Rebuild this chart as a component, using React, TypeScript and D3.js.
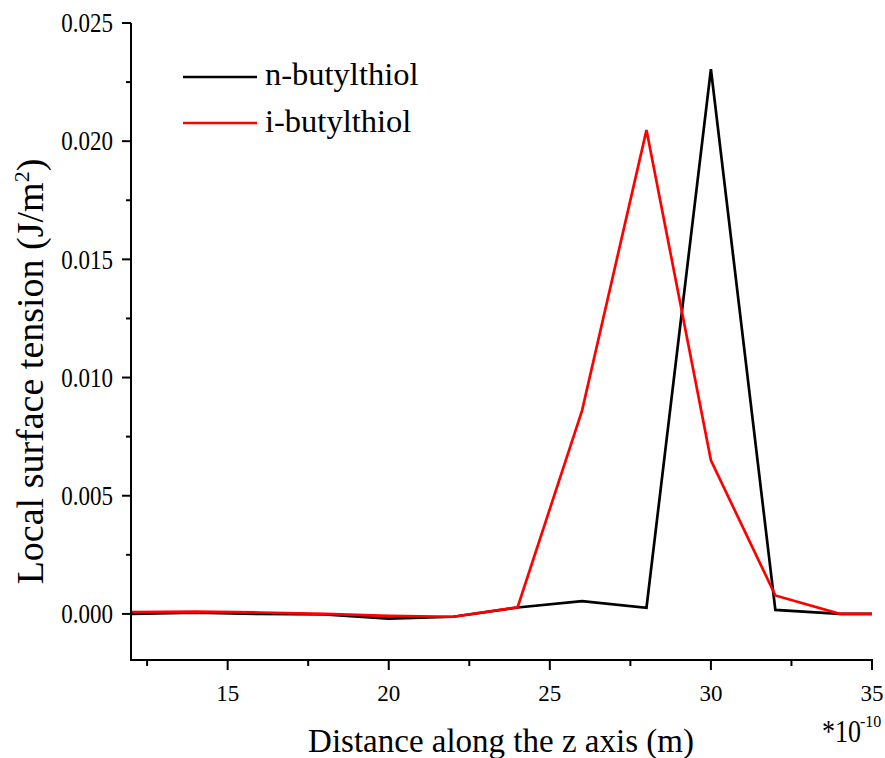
import React from "react";
import * as d3 from "d3";

const xValues = [12, 14, 16, 18, 20, 22, 24, 26, 28, 30, 32, 34, 35];
const nButyl = [0.0, 0.00005, 0.0, -0.00002, -0.0002, -0.00012, 0.00027, 0.00054, 0.00026, 0.02305, 0.00017, 0.0, 0.0];
const iButyl = [0.00008, 0.0001, 0.00006, 0.0, -0.00008, -0.00012, 0.00028, 0.0086, 0.02047, 0.0065, 0.00078, 0.0, 0.0];
const seriesNames = ["n-butylthiol", "i-butylthiol"];
const seriesColors = ["#000000", "#ff0000"];
const xMajorTicks = [15, 20, 25, 30, 35];
const yMajorTicks = [0.0, 0.005, 0.01, 0.015, 0.02, 0.025];

const W = 885, H = 758;
const left = 131, right = 872, top = 23, bottom = 660;
const ff = { fontFamily: "'Liberation Serif', 'Times New Roman', serif" };

export default function App() {
  const x = d3.scaleLinear().domain([12, 35]).range([left, right]);
  const y = d3.scaleLinear().domain([-0.00195, 0.025]).range([bottom, top]);
  const line = d3.line<number>().x((_, i) => x(xValues[i])).y((d) => y(d));
  const xMinor = d3.range(12.5, 35.01, 2.5).filter((v) => !xMajorTicks.includes(v));
  const yMinor = d3.range(0.0025, 0.025, 0.005);
  const series = [nButyl, iButyl];
  return (
    <svg width={W} height={H} style={{ position: "absolute", left: 0, top: 0 }}>
      <rect width={W} height={H} fill="#fff" />
      {series.map((s, k) => (
        <path key={k} d={line(s) || ""} fill="none" stroke={seriesColors[k]} strokeWidth={2.7} strokeLinejoin="miter" />
      ))}
      <line x1={left} x2={left} y1={top} y2={bottom + 1} stroke="#000" strokeWidth={2} />
      <line x1={left - 1} x2={right + 1} y1={bottom} y2={bottom} stroke="#000" strokeWidth={2} />
      {yMajorTicks.map((t) => (
        <g key={t}>
          <line x1={left - 9} x2={left} y1={y(t)} y2={y(t)} stroke="#000" strokeWidth={2} />
          <text transform={`translate(${left - 18},${y(t) + 9.2}) scale(1,1.2)`} textAnchor="end" fontSize={23} style={ff}>
            {d3.format(".3f")(t)}
          </text>
        </g>
      ))}
      {yMinor.map((t) => (
        <line key={t} x1={left - 5} x2={left} y1={y(t)} y2={y(t)} stroke="#000" strokeWidth={2} />
      ))}
      {xMajorTicks.map((t) => (
        <g key={t}>
          <line x1={x(t)} x2={x(t)} y1={bottom} y2={bottom + 10} stroke="#000" strokeWidth={2} />
          <text x={x(t)} y={701} textAnchor="middle" fontSize={23} style={ff}>{t}</text>
        </g>
      ))}
      {xMinor.map((t) => (
        <line key={t} x1={x(t)} x2={x(t)} y1={bottom} y2={bottom + 6} stroke="#000" strokeWidth={2} />
      ))}
      <text x={501} y={752} textAnchor="middle" fontSize={33} style={ff}>Distance along the z axis (m)</text>
      <text transform="translate(822,741.5) scale(1,1.2)" fontSize={26} style={ff}>*10</text>
      <text x={860} y={727} fontSize={16} style={ff}>-10</text>
      <text transform="translate(43,371.5) rotate(-90)" textAnchor="middle" fontSize={38} style={ff}>
        Local surface tension (J/m<tspan dy={-14} fontSize={22}>2</tspan><tspan dy={14}>)</tspan>
      </text>
      {seriesNames.map((n, k) => (
        <g key={n}>
          <line x1={183} x2={257} y1={77 + k * 46} y2={77 + k * 46} stroke={seriesColors[k]} strokeWidth={2.7} />
          <text x={265} y={85 + k * 46.5} fontSize={32.5} style={ff}>{n}</text>
        </g>
      ))}
    </svg>
  );
}
